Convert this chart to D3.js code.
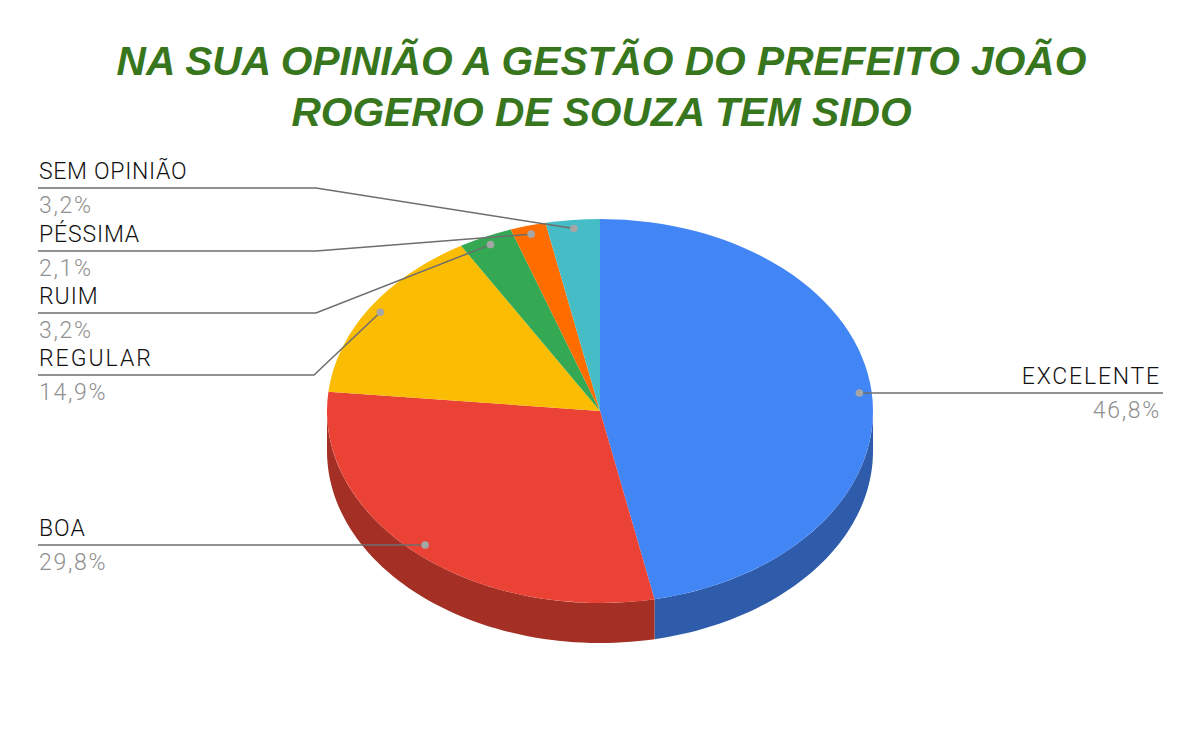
<!DOCTYPE html>
<html><head><meta charset="utf-8">
<script src="https://cdn.jsdelivr.net/npm/d3@7"></script>
<style>html,body{margin:0;background:#fff}svg{display:block}</style>
</head><body><div id="c"></div>
<script>
const categories=["EXCELENTE","BOA","REGULAR","RUIM","PÉSSIMA","SEM OPINIÃO"];
const values=[46.8,29.8,14.9,3.2,2.1,3.2];
const valueLabels=["46,8%","29,8%","14,9%","3,2%","2,1%","3,2%"];
const colors=["#4285f4","#ea4335","#fbbc04","#34a853","#ff6d01","#46bdc6"];
const sideColors=["#2e5cab","#a32f25","#b08403","#24763a","#b34c01","#31848b"];
const titleLines=["NA SUA OPINIÃO A GESTÃO DO PREFEITO JOÃO","ROGERIO DE SOUZA TEM SIDO"];
const W=1200,H=742,cx=600,cy=411,rx=273,ry=192,depth=40,dotR=0.955;
const labelLayout=[
 {x:1161,a:"end",ly:393,lx0:1163,elbow:null,ls:1.8},
 {x:39,a:"start",ly:545,lx0:38,elbow:null,ls:1},
 {x:39,a:"start",ly:375,lx0:38,elbow:314,ls:2},
 {x:39,a:"start",ly:313,lx0:38,elbow:316,ls:1},
 {x:39,a:"start",ly:251,lx0:38,elbow:316,ls:.85},
 {x:39,a:"start",ly:188,lx0:38,elbow:316,ls:.7}
];
const svg=d3.select("#c").append("svg").attr("width",W).attr("height",H);
svg.append("g").selectAll("text").data(titleLines).join("text")
 .attr("x",W/2+1.5).attr("y",(d,i)=>75+i*50.5).attr("text-anchor","middle")
 .attr("font-family","'Liberation Sans',Arial,sans-serif")
 .attr("font-size",40.7).attr("font-weight","bold").attr("font-style","italic").attr("fill","#38761d").text(d=>d);
const pie=d3.pie().sort(null).value(d=>d);
const arcs=pie(values);
const px=a=>cx+rx*Math.sin(a), py=(a,off=0)=>cy-ry*Math.cos(a)+off;
const sides=svg.append("g");
arcs.forEach((s,i)=>{
 const a0=Math.max(s.startAngle,Math.PI/2),a1=Math.min(s.endAngle,3*Math.PI/2);
 if(a1<=a0)return;
 const ps=d3.range(0,61).map(k=>a0+(a1-a0)*k/60);
 const top=ps.map(a=>[px(a),py(a)]),bot=ps.slice().reverse().map(a=>[px(a),py(a,depth)]);
 sides.append("path").attr("d",d3.line()(top.concat(bot))+"Z").attr("fill",sideColors[i]);
});
const arcGen=d3.arc().innerRadius(0).outerRadius(rx);
svg.append("g").attr("transform",`translate(${cx},${cy}) scale(1,${ry/rx})`)
 .selectAll("path").data(arcs).join("path").attr("d",arcGen).attr("fill",(d,i)=>colors[i]);
const g=svg.append("g").attr("font-family","Roboto,sans-serif").attr("font-size",23).attr("font-weight",300);
arcs.forEach((s,i)=>{
 const L=labelLayout[i],m=(s.startAngle+s.endAngle)/2;
 const dx=cx+(px(m)-cx)*dotR,dy=cy+(py(m)-cy)*dotR;
 const pts=L.elbow?[[L.lx0,L.ly],[L.elbow,L.ly],[dx,dy]]:[[L.lx0,L.ly],[dx,L.ly]];
 g.append("path").attr("d",d3.line()(pts)).attr("fill","none").attr("stroke","#6e6e6e").attr("stroke-width",1.5);
 g.append("circle").attr("cx",dx).attr("cy",L.elbow?dy:L.ly).attr("r",3.8).attr("fill","#a6a6a6");
 g.append("text").attr("x",L.x).attr("y",L.ly-9).attr("text-anchor",L.a).attr("fill","#111").attr("letter-spacing",L.ls).text(categories[i]);
 g.append("text").attr("x",L.x).attr("y",L.ly+25).attr("text-anchor",L.a).attr("fill","#8f8f8f").attr("letter-spacing",1.7).text(valueLabels[i]);
});
</script></body></html>
